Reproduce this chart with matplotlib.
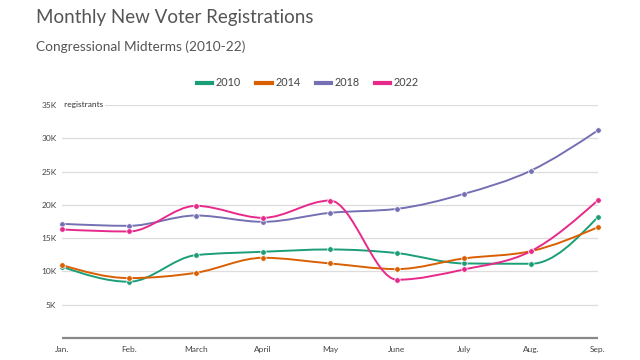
import numpy as np
import matplotlib.pyplot as plt
from matplotlib.path import Path
from matplotlib.patches import PathPatch

plt.rcParams['font.family'] = ['Lato', 'DejaVu Sans']

months = ['Jan.', 'Feb.', 'March', 'April', 'May', 'June', 'July', 'Aug.', 'Sep.']
years = ['2010', '2014', '2018', '2022']
reg_2010 = [10700, 8450, 12450, 12950, 13300, 12750, 11200, 11150, 18200]
reg_2014 = [10950, 9000, 9800, 12050, 11200, 10350, 11950, 13050, 16650]
reg_2018 = [17150, 16850, 18400, 17450, 18800, 19400, 21650, 25150, 31200]
reg_2022 = [16300, 16000, 19850, 18050, 20650, 8750, 10300, 13050, 20700]
colors = ['#1b9e77', '#d95f02', '#7570b3', '#e7298a']


def monotone_path(x, y):
    # d3 curveMonotoneX style bezier path through the points
    x = np.asarray(x, float)
    y = np.asarray(y, float)
    n = len(x)
    h = np.diff(x)
    s = np.diff(y) / h
    t = np.zeros(n)
    for i in range(1, n - 1):
        if s[i - 1] * s[i] <= 0:
            t[i] = 0
        else:
            p = (s[i - 1] * h[i] + s[i] * h[i - 1]) / (h[i - 1] + h[i])
            t[i] = (np.sign(s[i - 1]) + np.sign(s[i])) * min(abs(s[i - 1]), abs(s[i]), 0.5 * abs(p))
    t[0] = (3 * s[0] - t[1]) / 2 if n > 2 else s[0]
    t[-1] = (3 * s[-1] - t[-2]) / 2 if n > 2 else s[-1]
    verts = [(x[0], y[0])]
    codes = [Path.MOVETO]
    for i in range(n - 1):
        dx = h[i] / 3
        verts += [(x[i] + dx, y[i] + dx * t[i]), (x[i + 1] - dx, y[i + 1] - dx * t[i + 1]), (x[i + 1], y[i + 1])]
        codes += [Path.CURVE4] * 3
    return Path(verts, codes)


fig = plt.figure(figsize=(6.4, 3.6), dpi=100)
ax = fig.add_axes([62 / 640, 1 - 338 / 360, 536 / 640, 233 / 360])

xs = np.arange(len(months))
for year, vals, c in zip(years, [reg_2010, reg_2014, reg_2018, reg_2022], colors):
    ax.add_patch(PathPatch(monotone_path(xs, vals), facecolor='none', edgecolor=c, lw=1.4, zorder=3))
    ax.plot(xs, vals, 'o', color=c, ms=4, mec='white', mew=0.5, zorder=4)
    ax.plot([], [], color=c, lw=3, label=year)

ax.set_xlim(0, len(months) - 1)
ax.set_ylim(0, 35000)
ax.set_yticks([5000, 10000, 15000, 20000, 25000, 30000, 35000])
ax.set_yticklabels(['5K', '10K', '15K', '20K', '25K', '30K', '35K'])
ax.set_xticks(xs)
ax.set_xticklabels(months)
ax.tick_params(axis='both', length=0, labelsize=6, colors='#444444')
ax.tick_params(axis='y', pad=4)
ax.tick_params(axis='x', pad=6)
ax.grid(axis='y', color='#dddddd', lw=0.9)
ax.set_axisbelow(True)
for side in ['top', 'right', 'left']:
    ax.spines[side].set_visible(False)
ax.spines['bottom'].set_color('#888888')
ax.spines['bottom'].set_linewidth(1.6)
ax.spines['bottom'].set_capstyle('butt')
for p in ax.patches:
    p.set_clip_on(False)
for l in ax.lines:
    l.set_clip_on(False)

ax.text(0.0, 35000, ' registrants', fontsize=6, color='#333333', va='center', ha='left',
        bbox=dict(facecolor='white', edgecolor='none', pad=1.5), zorder=2)

fig.text(36 / 640, 1 - 17 / 360, 'Monthly New Voter Registrations', fontsize=13.5, color='#555555', va='center')
fig.text(36 / 640, 1 - 47 / 360, 'Congressional Midterms (2010-22)', fontsize=9.8, color='#555555', va='center')

fig.legend(loc='center', bbox_to_anchor=(308 / 640, 1 - 83 / 360), ncol=4, frameon=False, fontsize=7.8,
           handlelength=1.4, handletextpad=0.35, columnspacing=1.4, labelcolor='#444444')

fig.savefig('out.png', dpi=100)
